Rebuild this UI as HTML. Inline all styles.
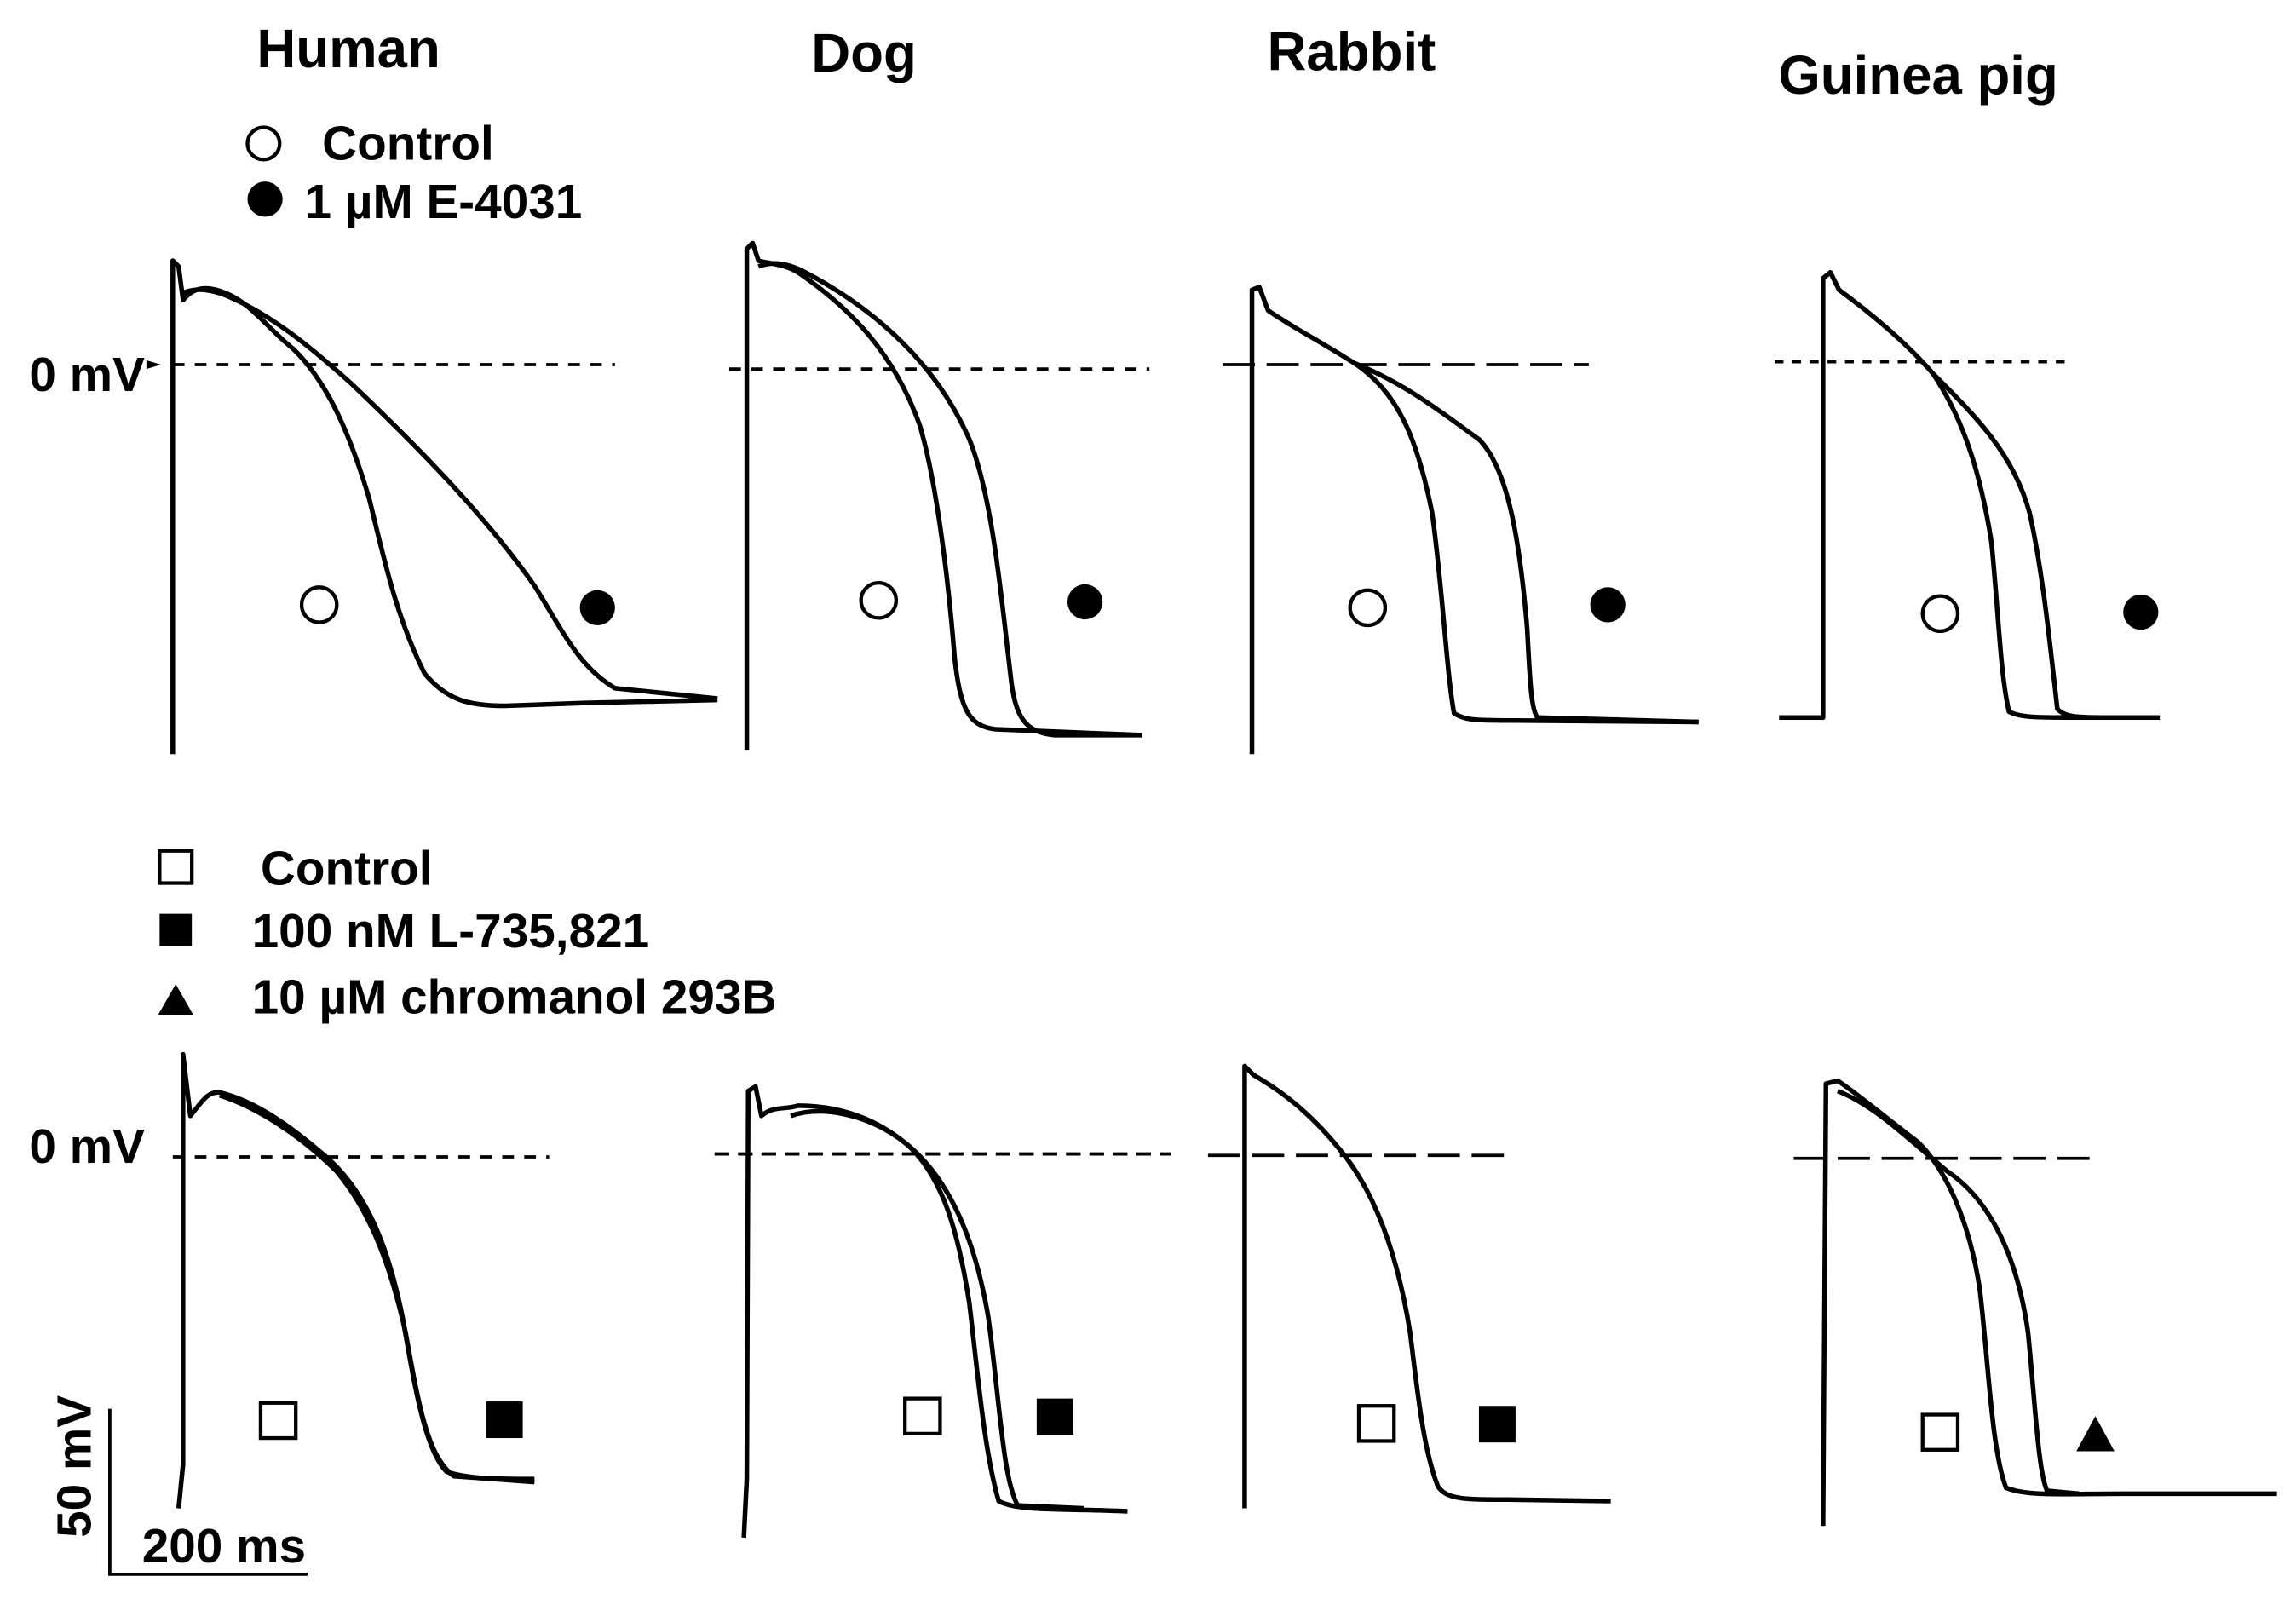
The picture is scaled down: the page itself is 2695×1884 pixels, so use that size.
<!DOCTYPE html>
<html><head><meta charset="utf-8"><style>
html,body{margin:0;padding:0;background:#fff}
svg{display:block}
text{font-family:"Liberation Sans",Arial,sans-serif;font-weight:bold;fill:#000}
</style></head><body>
<svg width="2695" height="1884" viewBox="0 0 1568 1096" preserveAspectRatio="none" xmlns="http://www.w3.org/2000/svg">
<rect width="1568" height="1096" fill="#fff"/>
<g font-size="37">
<text x="238" y="46" text-anchor="middle">Human</text>
<text x="590" y="49" text-anchor="middle">Dog</text>
<text x="923" y="48" text-anchor="middle">Rabbit</text>
<text x="1310" y="64" text-anchor="middle">Guinea pig</text>
</g>
<g font-size="33">
<text x="220" y="109">Control</text>
<text x="208" y="149">1 µM E-4031</text>
<text x="178" y="604">Control</text>
<text x="172" y="647">100 nM L-735,821</text>
<text x="172" y="692">10 µM chromanol 293B</text>
<text x="20" y="267">0 mV</text>
<text x="20" y="794">0 mV</text>
<text x="97" y="1067">200 ms</text>
<text x="62" y="1050" transform="rotate(-90 62 1050)">50 mV</text>
</g>
<g fill="none" stroke="#000" stroke-width="2.5">
<circle cx="180" cy="98" r="11"/>
<rect x="109" y="581" width="22" height="22"/>
<circle cx="218" cy="413" r="12"/><circle cx="600" cy="410" r="12"/><circle cx="934" cy="415" r="12"/><circle cx="1325" cy="419" r="12"/>
<rect x="178" y="958" width="24" height="24"/><rect x="618" y="955" width="24" height="24"/><rect x="928" y="960" width="24" height="24"/><rect x="1313" y="966" width="24" height="24"/>
</g>
<g fill="#000">
<circle cx="181" cy="136" r="12"/>
<rect x="109" y="624" width="22" height="22"/>
<polygon points="108,693 120,672 132,693"/>
<circle cx="408" cy="415" r="12"/><circle cx="741" cy="411" r="12"/><circle cx="1098" cy="413" r="12"/><circle cx="1462" cy="418" r="12"/>
<rect x="332" y="957" width="25" height="25"/><rect x="708" y="955" width="25" height="25"/><rect x="1010" y="960" width="25" height="25"/>
<polygon points="1418,991 1431,967 1444,991"/>
<polygon points="100,246 110,249 100,252"/>
</g>
<g fill="none" stroke="#000" stroke-width="2.2">
<line x1="118" y1="249" x2="420" y2="249" stroke-dasharray="8,7"/>
<line x1="498" y1="252" x2="785" y2="252" stroke-dasharray="8,7"/>
<line x1="835" y1="249" x2="1085" y2="249" stroke-dasharray="22,8"/>
<line x1="1212" y1="247" x2="1410" y2="247" stroke-dasharray="6,6"/>
<line x1="118" y1="790" x2="375" y2="790" stroke-dasharray="8,7"/>
<line x1="488" y1="788" x2="800" y2="788" stroke-dasharray="10,6"/>
<line x1="825" y1="789" x2="1035" y2="789" stroke-dasharray="22,8"/>
<line x1="1225" y1="791" x2="1435" y2="791" stroke-dasharray="22,8"/>
<polyline points="75,962 75,1075 210,1075"/>
</g>
<g fill="none" stroke="#000" stroke-width="3.2" stroke-linejoin="round">
<path d="M118,515 L118,178 L122,182 L125,205 C132,196 140,196 148,198 C170,204 180,222 200,238 C225,262 240,300 252,340 C262,380 270,420 290,460 C305,478 320,482 345,482 L400,480 L490,478"/>
<path d="M125,200 C135,196 145,198 155,202 C185,215 210,235 240,262 C280,300 330,350 365,400 C385,432 395,455 420,470 L490,477"/>
<path d="M510,512 L510,170 L514,166 L518,178 C525,180 535,180 545,186 C580,210 610,240 628,290 C640,330 648,400 652,450 C656,485 662,496 680,498 L780,502"/>
<path d="M518,182 C528,178 538,180 548,185 C600,212 640,250 662,300 C678,340 684,410 690,460 C693,490 700,500 720,502 L780,502"/>
<path d="M855,515 L855,198 L860,196 L866,212 C880,222 900,232 925,248 C955,268 968,300 978,350 C985,400 988,460 993,487 C1000,492 1010,492 1030,492 L1160,493"/>
<path d="M925,248 C960,262 985,282 1010,300 C1030,320 1038,370 1043,430 C1045,470 1046,485 1050,490 L1160,493"/>
<path d="M1215,490 L1245,490 L1245,190 L1250,186 L1256,198 C1275,212 1300,232 1320,255 C1340,285 1352,320 1360,370 C1365,420 1366,460 1372,486 C1380,490 1390,490 1420,490 L1475,490"/>
<path d="M1320,255 C1350,285 1375,310 1386,350 C1395,390 1400,440 1405,484 C1410,490 1420,490 1440,490"/>
<path d="M122,1030 L125,1000 L125,720 L130,762 C138,752 142,745 150,746 C175,752 200,770 225,792 C250,815 265,850 275,900 C283,945 290,990 305,1005 C320,1010 340,1010 365,1010"/>
<path d="M150,748 C175,756 205,775 230,800 C255,830 268,870 277,910 C286,960 292,995 310,1008 L365,1012"/>
<path d="M508,1050 L510,1010 L511,745 L516,742 L520,762 C528,755 535,758 545,755 C575,755 600,765 620,782 C645,805 655,845 662,890 C668,940 672,990 682,1025 C695,1032 720,1030 770,1032"/>
<path d="M540,762 C560,755 590,760 615,778 C645,800 665,840 675,900 C683,960 685,1010 695,1028 L740,1030"/>
<path d="M850,1030 L850,728 L856,734 C875,745 895,760 915,785 C940,815 955,860 963,910 C968,950 972,990 982,1015 C988,1024 1000,1024 1030,1024 L1100,1025"/>
<path d="M1245,1042 L1247,740 L1255,738 C1270,748 1290,765 1310,780 C1330,800 1345,835 1352,880 C1358,930 1360,990 1370,1016 C1385,1022 1410,1020 1450,1020 L1555,1020"/>
<path d="M1255,745 C1280,755 1300,775 1330,800 C1360,820 1378,860 1385,910 C1390,960 1392,1005 1398,1018 L1420,1020"/>
</g>
</svg>
</body></html>
